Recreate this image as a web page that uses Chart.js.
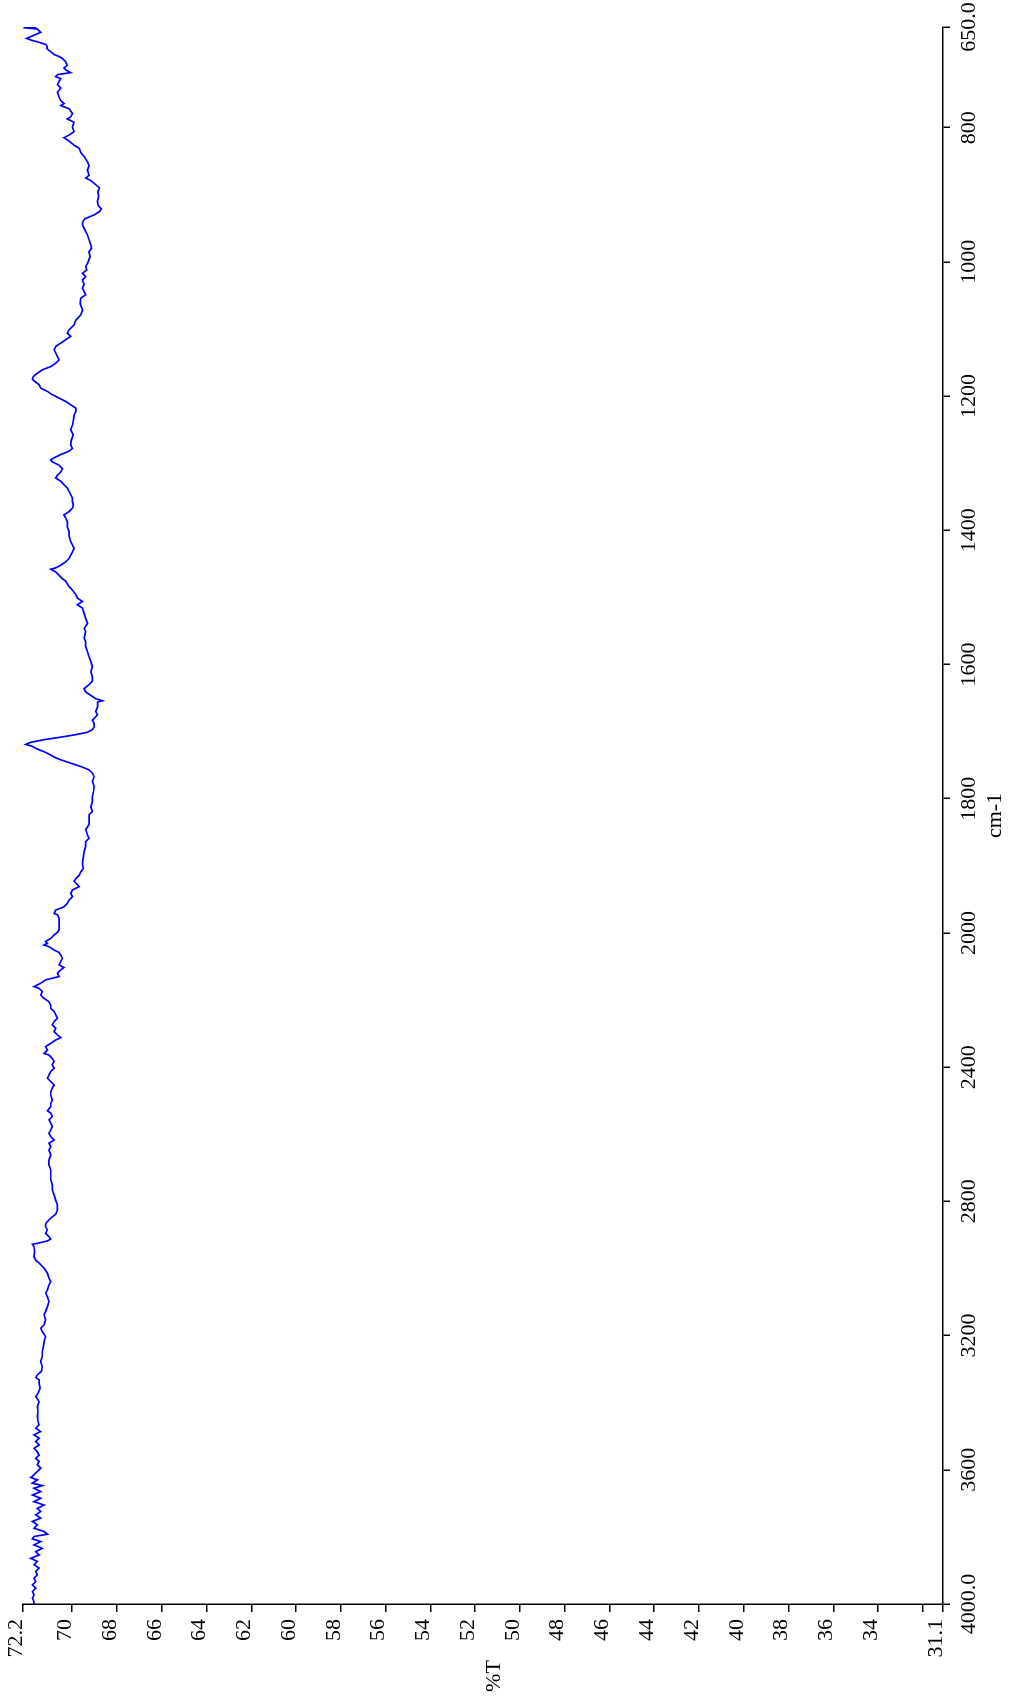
<!DOCTYPE html>
<html>
<head>
<meta charset="utf-8">
<title>IR spectrum</title>
<script src="https://cdn.jsdelivr.net/npm/chart.js@4.4.1/dist/chart.umd.min.js"></script>
<style>
  html, body { margin: 0; padding: 0; background: #fff; overflow: hidden; width: 1011px; height: 1704px; }
  /* the spectrum is laid out landscape and turned a quarter turn counter-clockwise */
  #wrap { position: absolute; left: 0; top: 0; width: 1704px; height: 1011px;
          transform-origin: 0 0; transform: translate(0, 1704px) rotate(-90deg); }
</style>
</head>
<body>
<div id="wrap"><canvas id="spectrum" width="1704" height="1011"></canvas></div>
<script>
// wavenumber axis (cm-1); the scale is twice as wide per cm-1 below 2000
const WN_MIN = 650, WN_BREAK = 2000, WN_MAX = 4000;
const wnTicks = [650, 800, 1000, 1200, 1400, 1600, 1800, 2000, 2400, 2800, 3200, 3600, 4000];
const wnTickLabels = ['650.0', '800', '1000', '1200', '1400', '1600', '1800', '2000', '2400', '2800', '3200', '3600', '4000.0'];

// transmittance axis (%T)
const T_MIN = 31.1, T_MAX = 72.2;
const tTicks = [72.2, 70, 68, 66, 64, 62, 60, 58, 56, 54, 52, 50, 48, 46, 44, 42, 40, 38, 36, 34, 32, 31.1];
const tTickLabels = ['72.2', '70', '68', '66', '64', '62', '60', '58', '56', '54', '52', '50', '48', '46', '44', '42', '40', '38', '36', '34', '', '31.1'];

const xTitle = 'cm-1';
const yTitle = '%T';

// spectrum: wavenumber (cm-1) and transmittance (%T)
const wavenumber = [
  650, 651, 653, 658, 667, 670, 672, 676, 679, 682, 687, 691, 694, 697, 702, 707, 711, 714, 718, 721,
  724, 727, 731, 736, 741, 747, 754, 760, 764, 767, 772, 779, 784, 787, 792, 799, 806, 811, 815, 820,
  826, 831, 837, 843, 851, 857, 863, 871, 875, 879, 885, 890, 895, 903, 910, 916, 921, 925, 930, 936,
  941, 945, 950, 955, 960, 967, 975, 980, 985, 992, 1000, 1007, 1012, 1017, 1022, 1027, 1034, 1039, 1049, 1054,
  1062, 1072, 1079, 1087, 1094, 1101, 1106, 1111, 1116, 1121, 1126, 1131, 1139, 1146, 1151, 1156, 1161, 1166, 1171, 1175,
  1178, 1183, 1188, 1193, 1198, 1203, 1208, 1213, 1218, 1223, 1228, 1236, 1243, 1250, 1258, 1265, 1273, 1278, 1282, 1287,
  1292, 1295, 1298, 1303, 1308, 1313, 1318, 1322, 1327, 1332, 1337, 1342, 1347, 1352, 1357, 1362, 1367, 1372, 1377, 1382,
  1387, 1395, 1402, 1409, 1417, 1422, 1427, 1432, 1437, 1442, 1447, 1452, 1456, 1458, 1462, 1467, 1472, 1476, 1484, 1489,
  1496, 1501, 1506, 1511, 1516, 1524, 1531, 1539, 1546, 1551, 1561, 1566, 1573, 1581, 1588, 1596, 1603, 1611, 1618, 1625,
  1630, 1636, 1641, 1646, 1651, 1654, 1656, 1663, 1670, 1675, 1683, 1688, 1693, 1697, 1701, 1705, 1709, 1712, 1716, 1719,
  1722, 1726, 1730, 1735, 1739, 1742, 1747, 1752, 1757, 1762, 1767, 1774, 1782, 1789, 1797, 1804, 1812, 1819, 1824, 1832,
  1838, 1842, 1846, 1854, 1859, 1864, 1871, 1879, 1886, 1894, 1899, 1904, 1909, 1914, 1919, 1923, 1928, 1931, 1936, 1941,
  1946, 1951, 1956, 1961, 1966, 1971, 1973, 1978, 1983, 1991, 1995, 1999, 2006, 2016, 2026, 2031, 2036, 2041, 2051, 2058,
  2066, 2076, 2085, 2095, 2103, 2110, 2120, 2130, 2140, 2150, 2160, 2165, 2175, 2185, 2195, 2205, 2215, 2225, 2234, 2244,
  2254, 2264, 2274, 2284, 2294, 2304, 2312, 2319, 2329, 2339, 2349, 2359, 2364, 2374, 2383, 2393, 2403, 2413, 2423, 2433,
  2443, 2453, 2463, 2473, 2483, 2498, 2508, 2518, 2530, 2537, 2547, 2557, 2567, 2577, 2587, 2597, 2607, 2617, 2627, 2637,
  2647, 2662, 2677, 2691, 2706, 2721, 2736, 2751, 2766, 2781, 2796, 2811, 2825, 2838, 2850, 2860, 2868, 2875, 2885, 2895,
  2905, 2912, 2918, 2925, 2928, 2935, 2950, 2965, 2975, 2984, 2999, 3014, 3029, 3039, 3049, 3064, 3074, 3084, 3099, 3114,
  3128, 3138, 3153, 3168, 3178, 3188, 3203, 3218, 3233, 3248, 3263, 3277, 3292, 3307, 3317, 3325, 3332, 3342, 3357, 3372,
  3382, 3397, 3412, 3426, 3441, 3456, 3466, 3476, 3486, 3496, 3506, 3516, 3526, 3536, 3546, 3556, 3566, 3575, 3585, 3595,
  3605, 3615, 3623, 3630, 3640, 3647, 3655, 3665, 3675, 3685, 3695, 3705, 3715, 3724, 3734, 3744, 3754, 3764, 3774, 3784,
  3792, 3799, 3806, 3814, 3824, 3834, 3844, 3854, 3864, 3873, 3883, 3893, 3903, 3913, 3923, 3933, 3943, 3953, 3963, 3973,
  3983, 3993, 4000
];
const transmittance = [
  71.60, 72.18, 71.56, 71.41, 72.04, 71.80, 71.56, 71.18, 71.11, 71.14, 70.96, 70.81, 70.59, 70.44, 70.29, 70.22, 70.37, 70.29, 70.07, 70.66,
  70.74, 70.51, 70.59, 70.66, 70.51, 70.66, 70.59, 70.51, 70.37, 70.51, 70.14, 69.99, 70.07, 70.22, 69.92, 69.99, 69.92, 70.14, 70.37, 70.14,
  69.92, 69.69, 69.62, 69.47, 69.32, 69.25, 69.32, 69.25, 69.40, 69.17, 68.95, 68.78, 68.85, 68.82, 68.88, 68.84, 68.70, 68.78, 69.02, 69.45,
  69.54, 69.54, 69.47, 69.40, 69.32, 69.25, 69.17, 69.14, 69.25, 69.20, 69.29, 69.40, 69.35, 69.54, 69.40, 69.54, 69.47, 69.54, 69.40, 69.62,
  69.65, 69.54, 69.62, 69.84, 69.92, 70.14, 70.22, 70.07, 70.29, 70.51, 70.74, 70.81, 70.69, 70.59, 70.74, 70.96, 71.34, 71.56, 71.74, 71.78,
  71.68, 71.48, 71.41, 71.11, 70.89, 70.59, 70.29, 70.07, 69.84, 69.84, 69.92, 69.95, 69.99, 70.07, 69.95, 70.04, 70.07, 69.99, 70.14, 70.51,
  70.81, 70.96, 70.89, 70.59, 70.44, 70.51, 70.66, 70.74, 70.51, 70.37, 70.22, 70.14, 70.07, 69.99, 69.99, 69.95, 69.99, 70.14, 70.37, 70.29,
  70.22, 70.22, 70.14, 70.14, 70.07, 69.99, 69.92, 69.99, 70.07, 70.14, 70.29, 70.51, 70.74, 70.96, 70.74, 70.59, 70.44, 70.29, 70.14, 69.99,
  69.84, 69.77, 69.54, 69.77, 69.54, 69.47, 69.40, 69.32, 69.47, 69.40, 69.47, 69.40, 69.40, 69.32, 69.25, 69.17, 69.10, 69.17, 69.10, 69.10,
  69.25, 69.47, 69.40, 69.17, 68.95, 68.65, 68.87, 68.87, 68.95, 68.87, 69.10, 69.02, 69.02, 69.10, 69.32, 69.92, 70.66, 71.26, 71.86, 72.08,
  71.78, 71.56, 71.26, 70.96, 70.74, 70.51, 70.07, 69.62, 69.25, 69.10, 69.02, 69.10, 69.02, 69.05, 69.10, 69.10, 69.17, 69.10, 69.25, 69.25,
  69.25, 69.32, 69.40, 69.32, 69.25, 69.40, 69.40, 69.47, 69.50, 69.54, 69.54, 69.50, 69.62, 69.69, 69.84, 69.92, 69.77, 69.69, 69.99, 70.07,
  69.99, 70.14, 70.22, 70.37, 70.74, 70.81, 70.66, 70.59, 70.59, 70.59, 70.59, 70.66, 70.81, 70.96, 71.19, 71.11, 71.26, 71.04, 70.81, 70.59,
  70.51, 70.44, 70.51, 70.59, 70.37, 70.51, 70.66, 70.59, 71.19, 71.41, 71.71, 71.48, 71.34, 71.41, 71.26, 71.04, 70.96, 70.96, 70.81, 70.74,
  70.66, 70.81, 70.89, 70.74, 70.81, 70.66, 70.51, 70.74, 70.96, 71.19, 71.11, 71.26, 71.04, 70.89, 70.81, 70.89, 70.81, 70.96, 71.04, 71.11,
  70.96, 70.81, 70.89, 70.96, 70.96, 70.89, 70.96, 70.96, 71.11, 70.96, 70.89, 71.04, 70.96, 70.89, 70.96, 71.04, 70.96, 70.81, 71.04, 70.96,
  71.04, 70.96, 71.04, 71.04, 70.96, 70.96, 70.96, 70.89, 70.89, 70.81, 70.74, 70.66, 70.66, 70.74, 70.96, 71.11, 71.19, 71.19, 71.11, 71.19,
  71.04, 70.96, 71.11, 71.56, 71.78, 71.71, 71.68, 71.71, 71.63, 71.48, 71.26, 71.11, 71.04, 70.96, 71.04, 71.11, 71.19, 71.11, 71.04, 71.11,
  71.19, 71.26, 71.19, 71.26, 71.41, 71.34, 71.19, 71.26, 71.29, 71.34, 71.34, 71.41, 71.34, 71.38, 71.56, 71.63, 71.48, 71.48, 71.44, 71.53,
  71.63, 71.48, 71.56, 71.53, 71.56, 71.53, 71.48, 71.63, 71.41, 71.71, 71.48, 71.63, 71.48, 71.71, 71.56, 71.48, 71.63, 71.48, 71.56, 71.41,
  71.56, 71.71, 71.86, 71.56, 71.78, 71.34, 71.71, 71.41, 71.78, 71.41, 71.71, 71.26, 71.56, 71.41, 71.63, 71.41, 71.78, 71.56, 71.71, 71.26,
  71.11, 71.71, 71.78, 71.41, 71.71, 71.34, 71.63, 71.48, 71.86, 71.56, 71.71, 71.48, 71.63, 71.56, 71.71, 71.63, 71.78, 71.63, 71.78, 71.71,
  71.78, 71.71, 71.71
];

// linear scale with a change of scale at 2000 cm-1
class SplitWavenumberScale extends Chart.LinearScale {
  _units(v) {
    return v <= WN_BREAK ? v - WN_MIN : (WN_BREAK - WN_MIN) + (v - WN_BREAK) / 2;
  }
  getPixelForValue(v) {
    if (v === null || v === undefined || isNaN(v)) return NaN;
    return this.getPixelForDecimal(this._units(v) / this._units(WN_MAX));
  }
  getValueForPixel(p) {
    const u = this.getDecimalForPixel(p) * this._units(WN_MAX);
    const low = WN_BREAK - WN_MIN;
    return u <= low ? WN_MIN + u : WN_BREAK + (u - low) * 2;
  }
}
SplitWavenumberScale.id = 'splitWavenumber';
SplitWavenumberScale.defaults = Chart.LinearScale.defaults;
Chart.register(SplitWavenumberScale);

const FONT = { family: '"Liberation Serif", "Times New Roman", serif', size: 22 };

// %T axis caption, written level along the axis
const tAxisTitle = {
  id: 'tAxisTitle',
  afterDraw(chart) {
    const { ctx, chartArea } = chart;
    ctx.save();
    ctx.font = FONT.size + 'px ' + FONT.family;
    ctx.fillStyle = '#000';
    ctx.textAlign = 'center';
    ctx.textBaseline = 'middle';
    ctx.fillText(yTitle, chartArea.left - 72, (chartArea.top + chartArea.bottom) / 2 + 11);
    ctx.restore();
  }
};

const points = wavenumber.map((w, i) => ({ x: w, y: transmittance[i] }));

new Chart(document.getElementById('spectrum'), {
  type: 'line',
  data: {
    datasets: [{
      data: points,
      borderColor: '#0000ff',
      borderWidth: 1.7,
      pointRadius: 0,
      tension: 0,
      fill: false
    }]
  },
  options: {
    responsive: false,
    animation: false,
    devicePixelRatio: 1,
    layout: { padding: { top: 23, right: 27, left: 0, bottom: 0 } },
    plugins: { legend: { display: false }, tooltip: { enabled: false } },
    scales: {
      x: {
        type: 'splitWavenumber',
        reverse: true,
        min: WN_MIN,
        max: WN_MAX,
        afterBuildTicks: s => { s.ticks = wnTicks.map(v => ({ value: v })); },
        afterFit: s => { s.height = 68; },
        ticks: {
          autoSkip: false, maxRotation: 0, minRotation: 0, padding: 6,
          color: '#000', font: FONT,
          callback: v => wnTickLabels[wnTicks.indexOf(v)]
        },
        grid: { drawOnChartArea: false, drawTicks: true, tickLength: 7, color: '#000', lineWidth: 1.5 },
        border: { display: true, color: '#000', width: 1.5 },
        title: { display: true, text: xTitle, color: '#000', font: FONT, padding: { top: 0, bottom: 3 } }
      },
      y: {
        type: 'linear',
        min: T_MIN,
        max: T_MAX,
        afterBuildTicks: s => { s.ticks = tTicks.map(v => ({ value: v })); },
        afterFit: s => { s.width = 100; },
        ticks: {
          autoSkip: false, padding: 7, labelOffset: -7,
          color: '#000', font: FONT,
          callback: v => tTickLabels[tTicks.indexOf(v)]
        },
        grid: { drawOnChartArea: false, drawTicks: true, tickLength: 8, color: '#000', lineWidth: 1.5 },
        border: { display: true, color: '#000', width: 1.5 }
      }
    }
  },
  plugins: [tAxisTitle]
});
</script>
</body>
</html>
